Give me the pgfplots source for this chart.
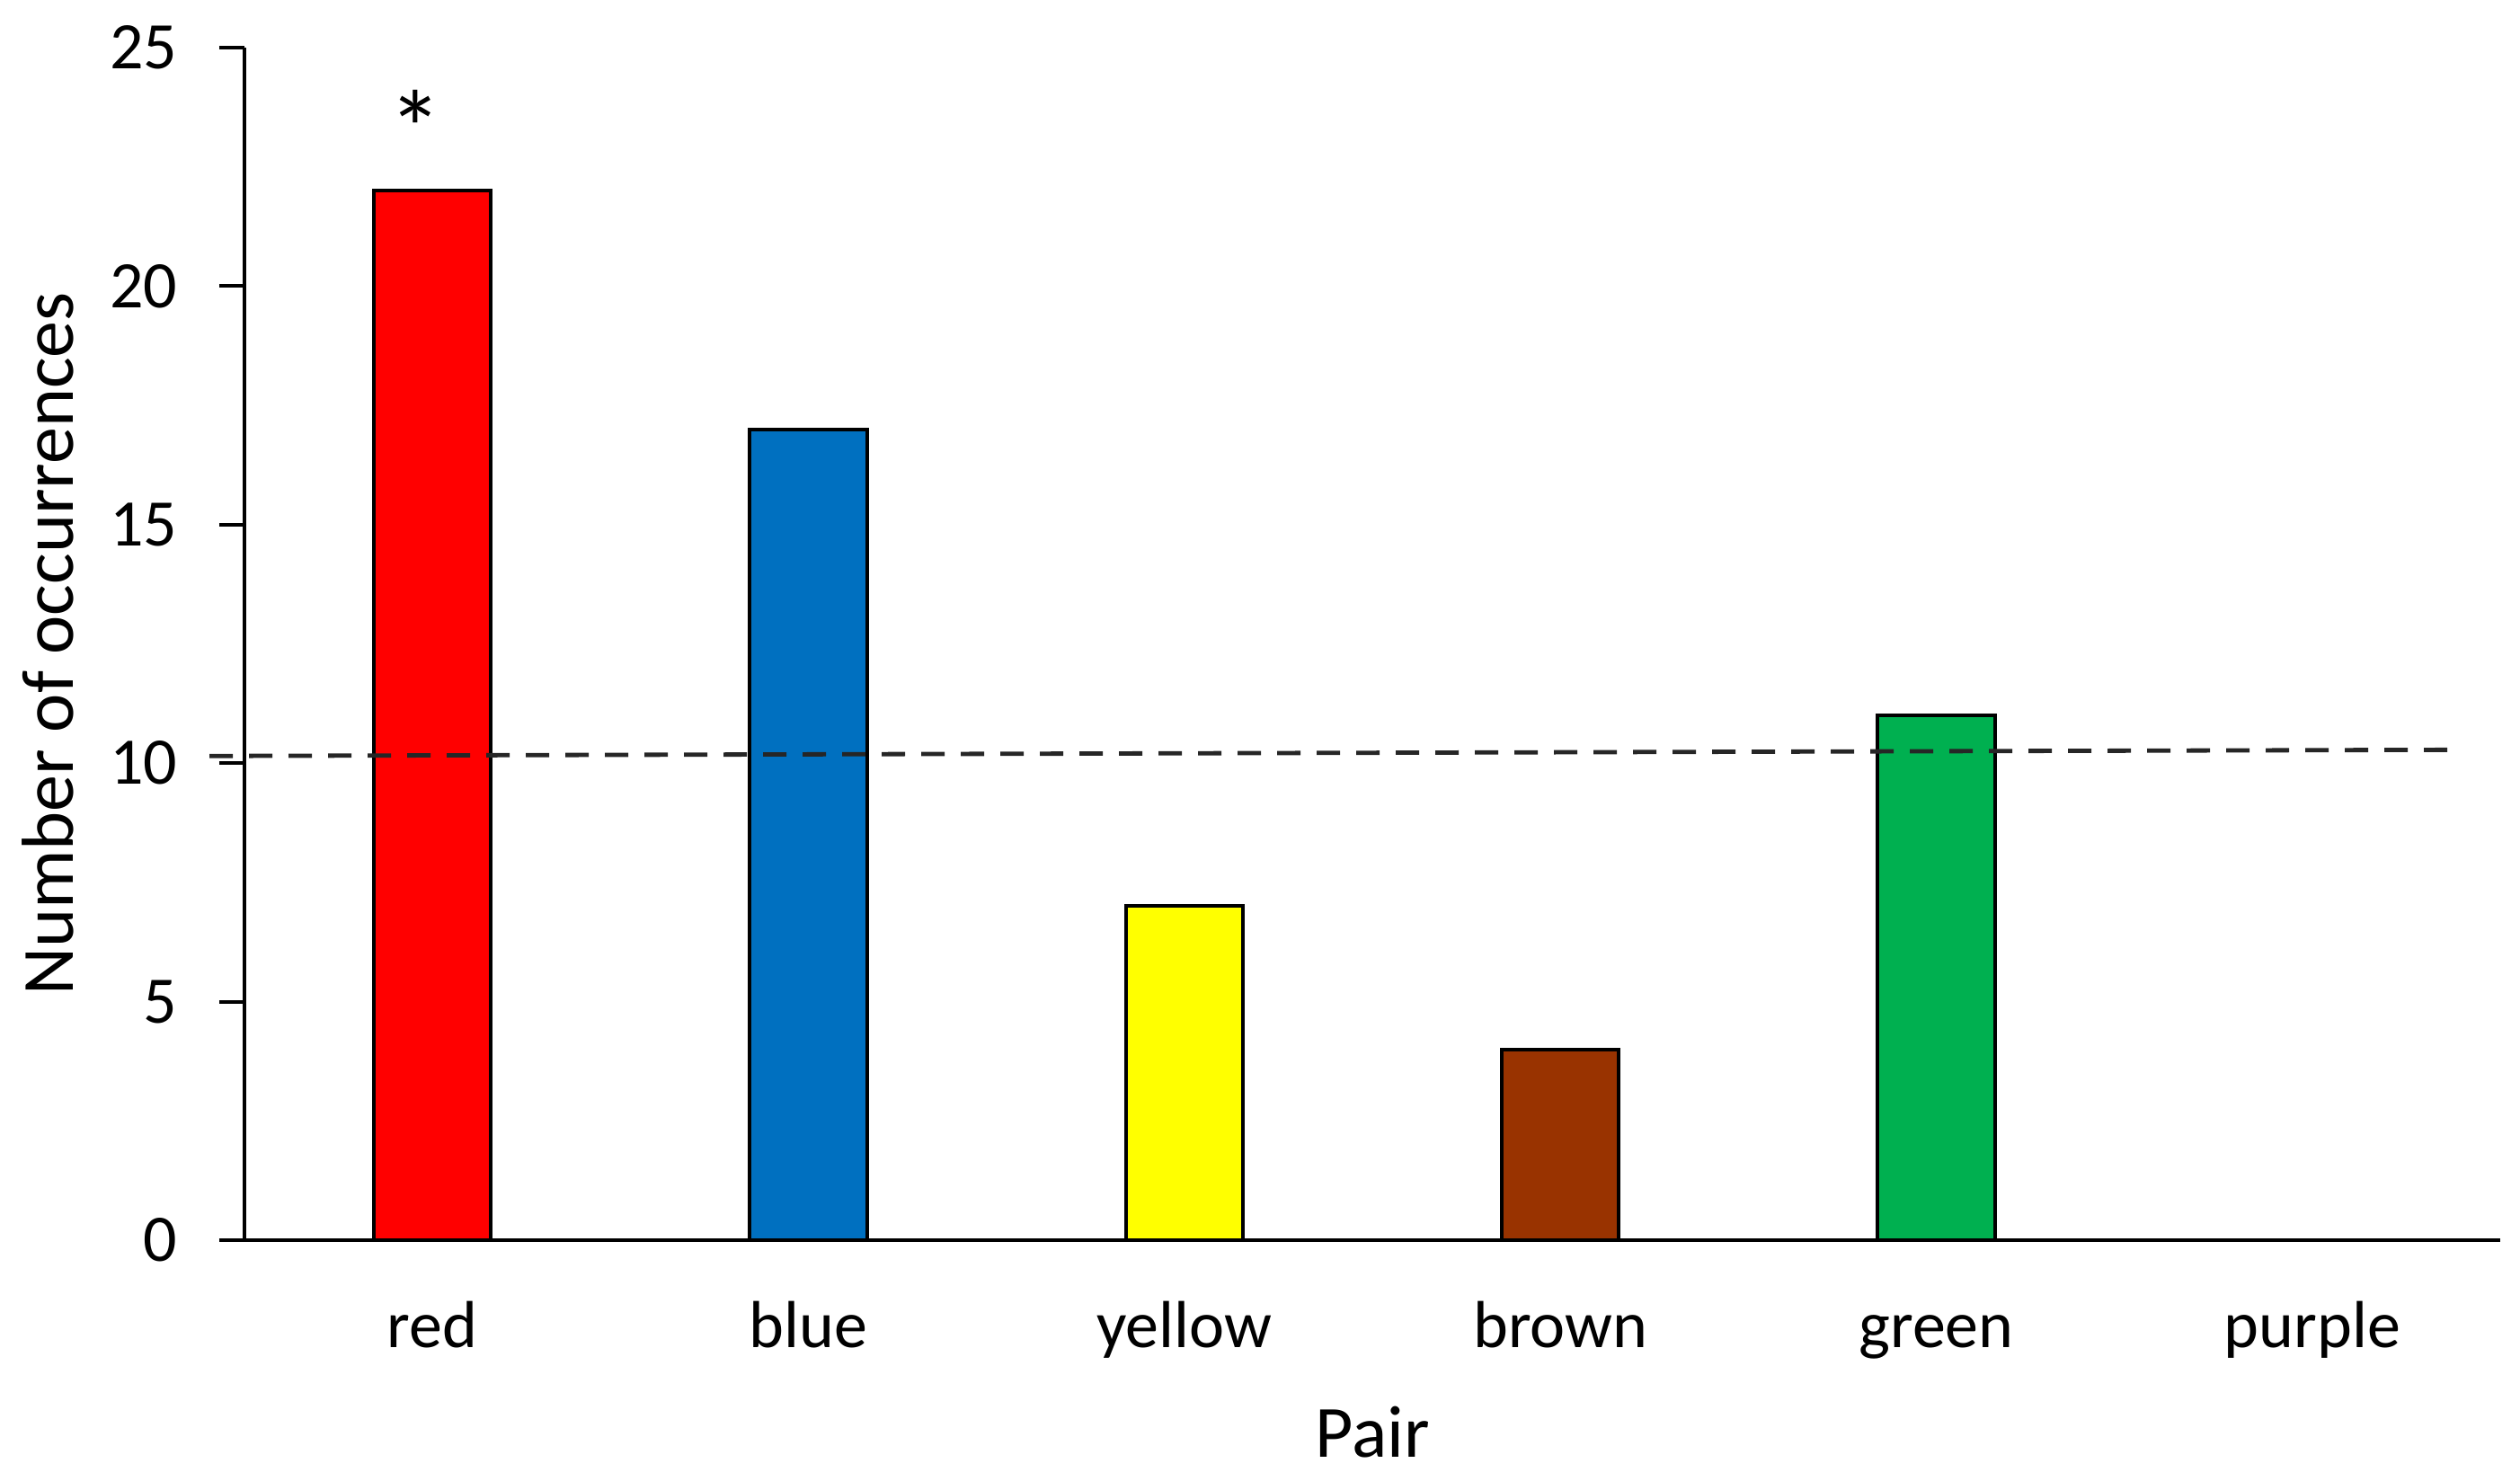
\documentclass[border=0pt]{standalone}
\usepackage{pgfplots}
\pgfplotsset{compat=1.18}
\usepackage{fontspec}
\setmainfont{Carlito}
\definecolor{cred}{HTML}{FF0000}
\definecolor{cblue}{HTML}{0070C0}
\definecolor{cyellow}{HTML}{FFFF00}
\definecolor{cbrown}{HTML}{993300}
\definecolor{cgreen}{HTML}{00B050}
\begin{document}
\begin{tikzpicture}
\useasboundingbox (-68pt,-67pt) rectangle (633pt,345pt);
\begin{axis}[
  at={(0,0)}, anchor=south west,
  scale only axis,
  width=627.5pt, height=331.75pt,
  xmin=-0.5, xmax=5.5,
  ymin=0, ymax=25,
  axis x line*=bottom,
  axis y line*=left,
  x axis line style={line width=1.1pt, -},
  y axis line style={line width=1pt, -},
  xtick={0,1,2,3,4,5},
  xticklabels={red,blue,yellow,brown,green,purple},
  major x tick style={draw=none},
  ytick={0,5,10,15,20,25},
  major y tick style={line width=1pt, black},
  tick align=outside,
  major tick length=7pt,
  /pgf/number format/assume math mode=true,
  tick label style={font=\fontsize{18.5}{22}\selectfont, inner sep=0pt},
  yticklabel style={anchor=east, xshift=-11.5pt},
  xticklabel style={anchor=base, yshift=-22.75pt},
  xlabel={Pair},
  ylabel={Number of occurrences},
  label style={font=\fontsize{20.5}{24}\selectfont, inner sep=0pt},
  xlabel style={at={(axis description cs:0.5,0)}, anchor=base, yshift=-60.25pt},
  ylabel style={at={(axis description cs:0,0.5)}, anchor=base, yshift=47.5pt},
  clip=false,
  ybar, bar width=32.6pt, bar shift=0pt,
]
\addplot[fill=cred, draw=black, line width=1pt] coordinates {(0,22)};
\addplot[fill=cblue, draw=black, line width=1pt] coordinates {(1,17)};
\addplot[fill=cyellow, draw=black, line width=1pt] coordinates {(2,7)};
\addplot[fill=cbrown, draw=black, line width=1pt] coordinates {(3,4)};
\addplot[fill=cgreen, draw=black, line width=1pt] coordinates {(4,11)};
\addplot[fill=purple, draw=black, line width=1pt] coordinates {(5,0)};
\addplot[sharp plot, draw=black!85, line width=1.2pt, dash pattern=on 6.5pt off 4.5pt] coordinates {(-0.593,10.15) (5.384,10.28)};
\node[anchor=base, font=\fontsize{30}{34}\selectfont, inner sep=0pt] at (axis cs:-0.045,22.5) {*};
\end{axis}
\end{tikzpicture}
\end{document}
